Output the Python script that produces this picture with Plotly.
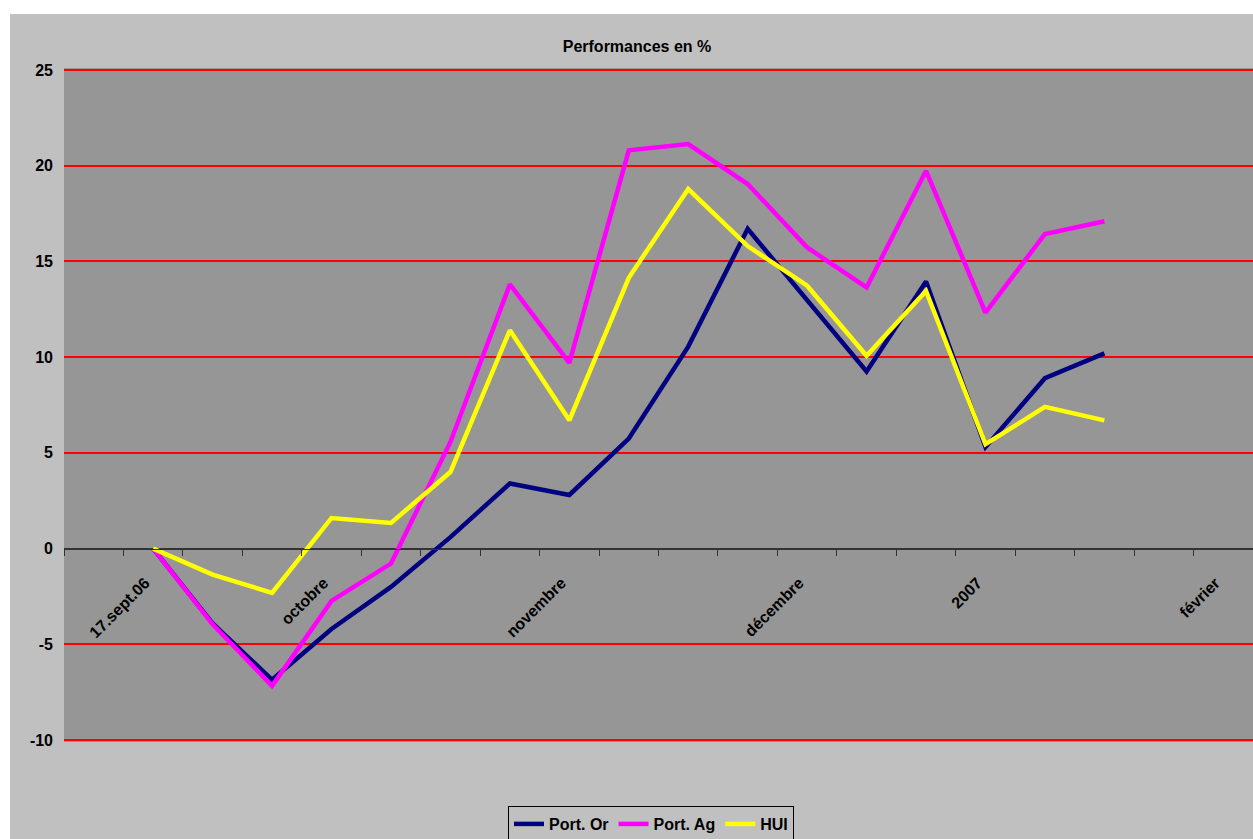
import plotly.graph_objects as go

# ---- data ----
weeks = list(range(1, 18))  # weekly slots on the category axis
port_or = [0, -3.9, -6.85, -4.2, -2.0, 0.6, 3.4, 2.8, 5.75, 10.55, 16.7, 13.0, 9.25, 13.95, 5.3, 8.9, 10.2]
port_ag = [0, -3.95, -7.17, -2.73, -0.78, 5.57, 13.8, 9.7, 20.8, 21.13, 19.04, 15.73, 13.64, 19.73, 12.33, 16.43, 17.1]
hui = [0, -1.36, -2.31, 1.6, 1.34, 4.0, 11.4, 6.7, 14.14, 18.78, 15.8, 13.73, 10.07, 13.46, 5.45, 7.4, 6.7]

label_pos = [1, 4, 8, 12, 15, 19]
label_text = ["17.sept.06", "octobre", "novembre", "décembre", "2007", "février"]
n_slots = 20
y_ticks = [-10, -5, 0, 5, 10, 15, 20, 25]
y_ticktext = ["-10", "-5", "0", "5", "10", "15", "20", "25"]
y_range = [-10.1, 25.1]

FONT = "Arial, Liberation Sans, sans-serif"
bold16 = dict(family=FONT, size=16, color="black", weight="bold")

fig = go.Figure()
fig.add_trace(go.Scatter(x=weeks, y=port_or, mode="lines", name="Port. Or",
                         line=dict(color="#000080", width=4.5)))
fig.add_trace(go.Scatter(x=weeks, y=port_ag, mode="lines", name="Port. Ag",
                         line=dict(color="#FF00FF", width=4.5)))
fig.add_trace(go.Scatter(x=weeks, y=hui, mode="lines", name="HUI",
                         line=dict(color="#FFFF00", width=4.5)))
# helper trace so the tick-mark axis is drawn
fig.add_trace(go.Scatter(x=[None], y=[None], xaxis="x2", yaxis="y",
                         showlegend=False, hoverinfo="skip"))

zero_pos = (0 - y_range[0]) / (y_range[1] - y_range[0])
xr = [-0.5, n_slots - 0.5]

W, H = 1253, 839
L, R, T, B = 64, 0, 68, 97
pw, ph = W - L - R, H - T - B

fig.update_layout(
    width=W, height=H,
    margin=dict(l=L, r=R, t=T, b=B, autoexpand=False),
    paper_bgcolor="#C0C0C0",
    plot_bgcolor="#969696",
    hovermode=False,
    title=dict(text="Performances en %", x=637 / W, xref="container", xanchor="center",
               y=1 - 46 / H, yref="container", yanchor="middle", font=bold16),
    xaxis=dict(range=xr, anchor="free", position=zero_pos,
               tickmode="array", tickvals=label_pos, ticktext=label_text,
               tickangle=-45, ticks="", showgrid=False, zeroline=False, showline=False,
               tickfont=bold16, ticklabelstandoff=21, ticklabelshift=-8),
    xaxis2=dict(range=xr, overlaying="x", anchor="free", position=zero_pos, side="bottom",
                tickmode="array", tickvals=[i - 0.5 for i in range(n_slots + 1)],
                ticks="outside", ticklen=6, tickwidth=1, tickcolor="#333333",
                showticklabels=False, showline=True, linecolor="#333333", linewidth=1,
                showgrid=False, zeroline=False),
    yaxis=dict(range=y_range, tickmode="array", tickvals=y_ticks, ticktext=y_ticktext,
               showgrid=True, gridcolor="#FF0000", gridwidth=2,
               zeroline=True, zerolinecolor="#333333", zerolinewidth=1,
               ticks="", showline=False, tickfont=bold16, ticklabelstandoff=10),
    legend=dict(orientation="h", xref="container", x=651 / W, xanchor="center",
                yref="container", y=1 - 806 / H, yanchor="top",
                bgcolor="#C0C0C0", bordercolor="black", borderwidth=1,
                font=bold16, itemwidth=30, tracegroupgap=0),
    shapes=[
        # white page strips around the chart area
        dict(type="rect", xref="paper", yref="paper",
             x0=-L / pw, x1=(10 - L) / pw, y0=-B / ph, y1=(T + ph) / ph,
             fillcolor="white", line=dict(width=0), layer="below"),
        dict(type="rect", xref="paper", yref="paper",
             x0=-L / pw, x1=1.0, y0=(T + ph - 14) / ph, y1=(T + ph) / ph,
             fillcolor="white", line=dict(width=0), layer="below"),
    ],
)

fig.write_html("out.html", config={"displayModeBar": False},
               post_script="document.body.style.margin='0px';document.body.style.overflow='hidden';")
